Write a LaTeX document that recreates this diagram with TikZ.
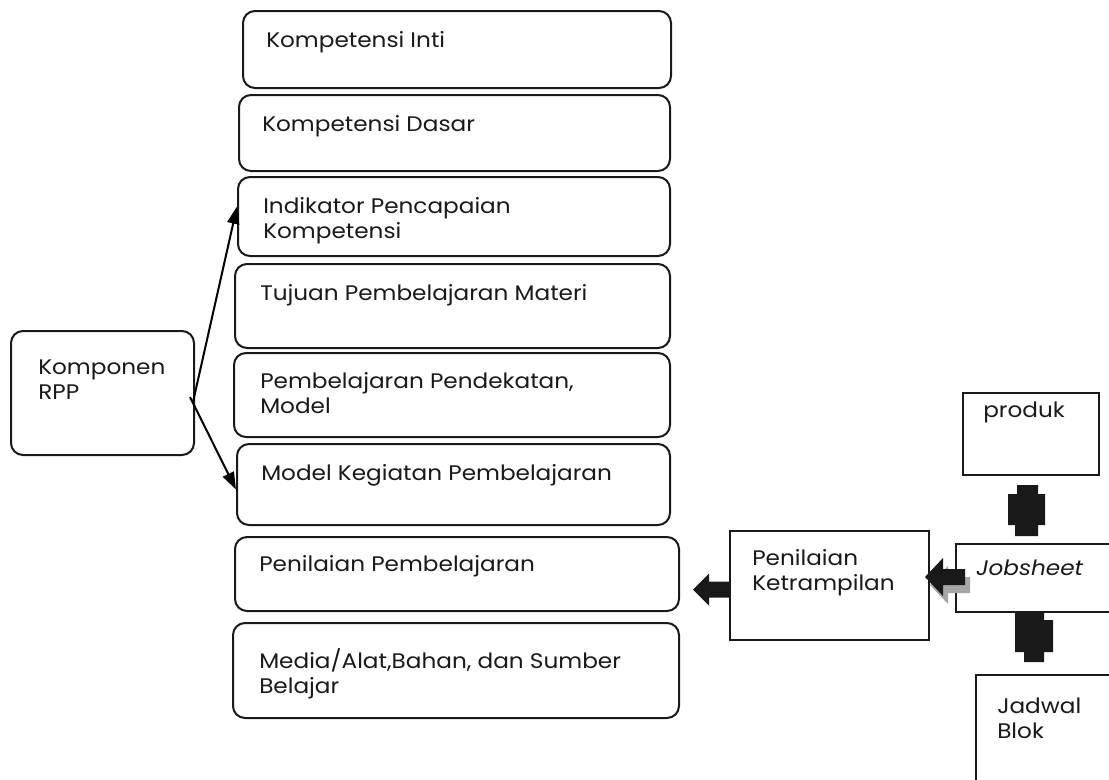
\documentclass[tikz,border=0pt]{standalone}
\usepackage{fontspec}
\setmainfont[FakeStretch=1.1]{Poppins}
\usetikzlibrary{calc,arrows.meta}
\begin{document}
\begin{tikzpicture}[x=0.75pt,y=-0.75pt,
  rbox/.style={draw=black!90,line width=1.5pt,rounded corners=9pt,anchor=north west,inner sep=0pt},
  sbox/.style={draw=black!90,line width=1.5pt,anchor=north west,inner sep=0pt},
  txt/.style={anchor=base west,inner sep=0pt,font=\fontsize{15.8}{18.75}\selectfont,align=left,text=black!90},
  thin arrow/.style={line width=1.5pt,-{Triangle[length=13pt,width=9pt]}}]
\useasboundingbox (0,0) rectangle (1109,779);

% left column of components
\node[rbox,minimum width=428*0.75pt,minimum height=77*0.75pt] (ki) at (242,10) {};
\node[rbox,minimum width=431*0.75pt,minimum height=76*0.75pt] (kd) at (238,94) {};
\node[rbox,minimum width=432*0.75pt,minimum height=79*0.75pt] (ipk) at (237,176) {};
\node[rbox,minimum width=435*0.75pt,minimum height=84*0.75pt] (tpm) at (234,263) {};
\node[rbox,minimum width=436*0.75pt,minimum height=84*0.75pt] (ppm) at (233,352) {};
\node[rbox,minimum width=433*0.75pt,minimum height=81*0.75pt] (mkp) at (236,443) {};
\node[rbox,minimum width=444*0.75pt,minimum height=74*0.75pt] (pp) at (234,536) {};
\node[rbox,minimum width=446*0.75pt,minimum height=95*0.75pt] (mab) at (232,622) {};
\node[rbox,minimum width=183*0.75pt,minimum height=124*0.75pt] (rpp) at (10,330) {};

% labels (multi-line labels sit on the baseline of their last line)
\node[txt] (tki) at (266,47) {Kompetensi Inti};
\node[txt] (tkd) at (262,131) {Kompetensi Dasar};
\node[txt] (tipk) at (263,238) {Indikator Pencapaian\\Kompetensi};
\node[txt] (ttpm) at (260,300) {Tujuan Pembelajaran Materi};
\node[txt] (tppm) at (260,413) {Pembelajaran Pendekatan,\\Model};
\node[txt] (tmkp) at (261,480) {Model Kegiatan Pembelajaran};
\node[txt] (tpp) at (259,571) {Penilaian Pembelajaran};
\node[txt] (tmab) at (259,693) {Media/Alat,Bahan, dan Sumber\\Belajar};
\node[txt] (trpp) at (38,399) {Komponen\\RPP};

% right part
\node[sbox,minimum width=199*0.75pt,minimum height=109*0.75pt] (pk) at (729,530) {};
\node[sbox,minimum width=156*0.75pt,minimum height=68*0.75pt] (js) at (955,543) {};
\node[sbox,minimum width=136*0.75pt,minimum height=82*0.75pt] (pr) at (962,392) {};
\node[sbox,minimum width=134*0.75pt,minimum height=120*0.75pt] (jb) at (975,674) {};

\node[txt] (tpk) at (752,590) {Penilaian\\Ketrampilan};
\node[txt] (tjs) at (976,575) {\itshape Jobsheet};
\node[txt] (tpr) at (983,417) {produk};
\node[txt] (tjb) at (997,738) {Jadwal\\Blok};

% thin arrows from the component box
\coordinate (r1) at (193,402);
\coordinate (r2) at (190,397);
\draw[thin arrow] (r1) -- ($(ipk.west)+(0,-10)$);
\draw[thin arrow] (r2) -- ($(mkp.west)+(0,5)$);

% block arrow into the assessment column
\fill[black!90] ($(pk.west)+(0,-4)$) -- ++(-20,0) -- ++(0,-8) -- ++(-16,16) -- ++(16,16) -- ++(0,-8) -- ++(20,0) -- cycle;

% shadowed block arrow from the jobsheet
\fill[black!35] ($(js.west)+(15,-1)$) -- ++(-22,0) -- ++(0,-11) -- ++(-18,19) -- ++(18,19) -- ++(0,-11) -- ++(22,0) -- cycle;
\fill[black!90] ($(js.west)+(10,-9)$) -- ++(-22,0) -- ++(0,-11) -- ++(-18,19) -- ++(18,19) -- ++(0,-11) -- ++(22,0) -- cycle;

% stubby vertical connectors
\fill[black!90] ($(pr.south)+(-14,9)$) -- ++(21,0) -- ++(0,9) -- ++(7,0) -- ++(0,31) -- ++(-7,0) -- ++(0,11) -- ++(-23,0) -- ++(0,-11) -- ++(-7,0) -- ++(0,-31) -- ++(9,0) -- cycle;
\fill[black!90] ($(js.south)+(-19,0)$) -- ++(29,0) -- ++(0,7) -- ++(9,0) -- ++(0,32) -- ++(-9,0) -- ++(0,10) -- ++(-20,0) -- ++(0,-10) -- ++(-9,0) -- ++(0,-39) -- cycle;
\end{tikzpicture}
\end{document}
